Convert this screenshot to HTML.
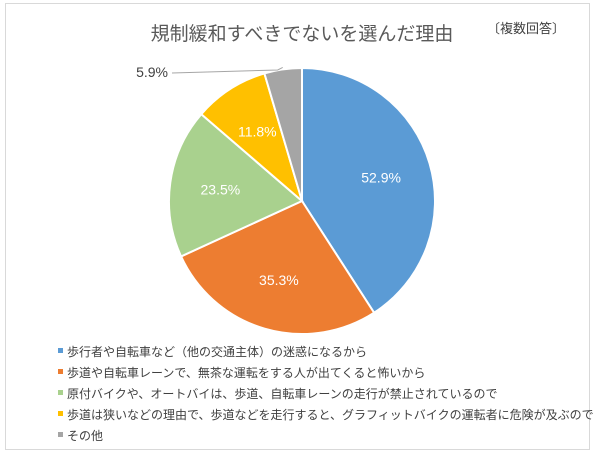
<!DOCTYPE html>
<html><head><meta charset="utf-8"><style>
body{margin:0;background:#fff;width:600px;height:456px;overflow:hidden;font-family:"Liberation Sans","Noto Sans CJK JP",sans-serif}
</style></head><body>
<svg id="chart" width="600" height="456" xmlns="http://www.w3.org/2000/svg" font-family="Liberation Sans, Noto Sans CJK JP, sans-serif">
<rect x="5.5" y="3.5" width="584" height="446" fill="#fff" stroke="#d9d9d9"/>
<text x="302" y="40" text-anchor="middle" font-size="19" fill="#595959">規制緩和すべきでないを選んだ理由</text>
<text x="526" y="33" text-anchor="middle" font-size="13" fill="#404040">〔複数回答〕</text>
<g id="slices"></g>
<g id="legend"></g>
</svg>
<script>
const categories=["歩行者や自転車など（他の交通主体）の迷惑になるから","歩道や自転車レーンで、無茶な運転をする人が出てくると怖いから","原付バイクや、オートバイは、歩道、自転車レーンの走行が禁止されているので","歩道は狭いなどの理由で、歩道などを走行すると、グラフィットバイクの運転者に危険が及ぶので","その他"];
const values=[52.9,35.3,23.5,11.8,5.9];
const labels=["52.9%","35.3%","23.5%","11.8%","5.9%"];
const colors=["#5b9bd5","#ed7d31","#a9d18e","#ffc000","#a5a5a5"];
const NS="http://www.w3.org/2000/svg";
const cx=302,cy=201,r=133;
const total=values.reduce((a,b)=>a+b,0);
const g=document.getElementById("slices");
function pt(a,rr){return [cx+rr*Math.sin(a),cy-rr*Math.cos(a)];}
let a0=0;
values.forEach((v,i)=>{
  const a1=a0+v/total*2*Math.PI;
  const p0=pt(a0,r),p1=pt(a1,r);
  const large=(a1-a0)>Math.PI?1:0;
  const p=document.createElementNS(NS,"path");
  p.setAttribute("d",`M${cx},${cy}L${p0[0]},${p0[1]}A${r},${r} 0 ${large} 1 ${p1[0]},${p1[1]}Z`);
  p.setAttribute("fill",colors[i]);p.setAttribute("stroke","#fff");p.setAttribute("stroke-width","2");
  
  
  g.appendChild(p);
  const m=(a0+a1)/2;
  const t=document.createElementNS(NS,"text");
  t.setAttribute("font-size","14");
  if(i===values.length-1){
    const e=pt(m,r+2);
    const l=document.createElementNS(NS,"polyline");
    l.setAttribute("points",`${e[0]},${e[1]} ${e[0]-5},${cy-r+2} 172,${cy-r+5}`);
    l.setAttribute("fill","none");l.setAttribute("stroke","#a6a6a6");
    
    
    g.appendChild(l);
    t.setAttribute("x",168);t.setAttribute("y",cy-r+9);t.setAttribute("text-anchor","end");t.setAttribute("fill","#404040");
  } else {
    const c=pt(m,r*0.62);
    t.setAttribute("x",c[0]);t.setAttribute("y",c[1]+5);t.setAttribute("text-anchor","middle");t.setAttribute("fill","#fff");
  }
  t.textContent=labels[i];
  
  
  g.appendChild(t);
  a0=a1;
});
const lg=document.getElementById("legend");
categories.forEach((c,i)=>{
  const y=352+i*21;
  const s=document.createElementNS(NS,"rect");
  s.setAttribute("x",58);s.setAttribute("y",y-4);s.setAttribute("width",5);s.setAttribute("height",5);s.setAttribute("fill",colors[i]);
  
  
  lg.appendChild(s);
  const t=document.createElementNS(NS,"text");
  t.setAttribute("x",67);t.setAttribute("y",y+4);t.setAttribute("font-size","12");t.setAttribute("fill","#404040");
  t.textContent=c;
  
  
  lg.appendChild(t);
});
</script>
</body></html>
